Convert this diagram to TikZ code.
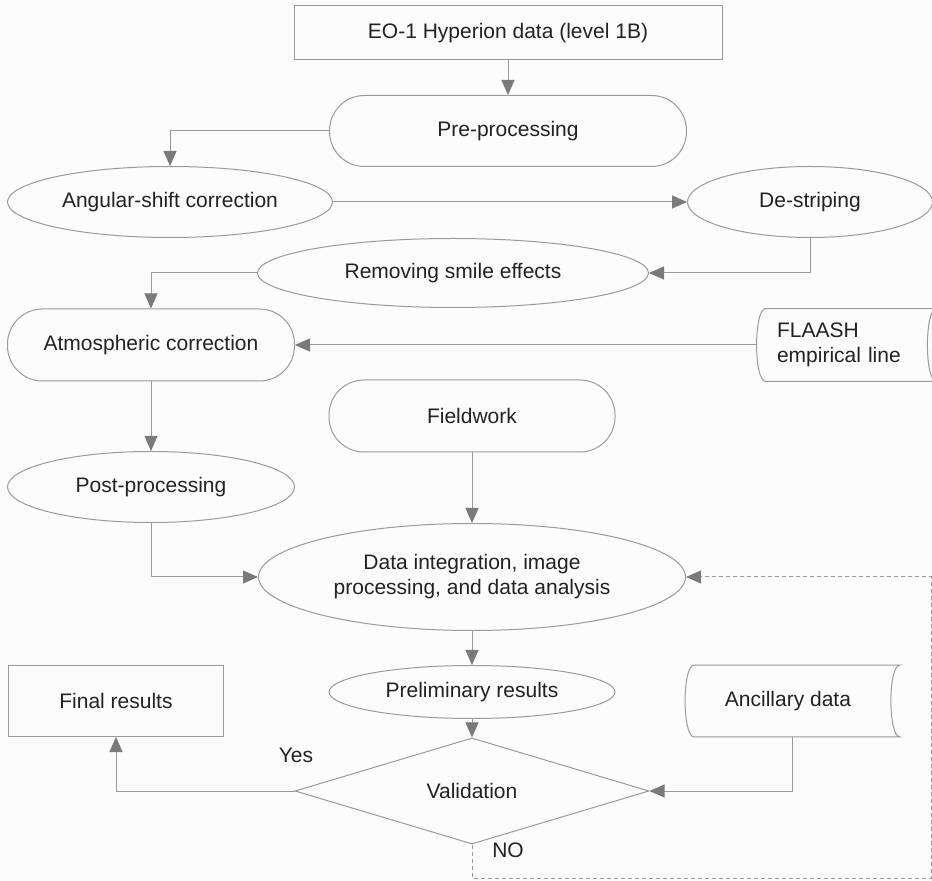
\documentclass[tikz,border=0pt]{standalone}
\usepackage{fontspec}
\setmainfont{Liberation Sans}
\usetikzlibrary{arrows.meta,shapes.geometric}
\definecolor{lineg}{HTML}{9A9A9A}
\definecolor{tipg}{HTML}{7A7A7A}
\definecolor{textg}{HTML}{222222}
\definecolor{paper}{HTML}{FCFCFC}
% outline of a stored-data node: convex left side, concave right side
\newcommand{\storeoutline}[1]{%
  \draw[lineg, line width=0.5pt]
    ([xshift=4.5pt]#1.north west) .. controls ([xshift=-1.5pt]#1.north west) and ([xshift=-1.5pt]#1.south west) .. ([xshift=4.5pt]#1.south west)
    -- ([xshift=4.5pt]#1.south east) .. controls ([xshift=-1.5pt]#1.south east) and ([xshift=-1.5pt]#1.north east) .. ([xshift=4.5pt]#1.north east) -- cycle;}
\tikzset{
  box/.style={rectangle, draw=lineg, line width=0.5pt},
  oval/.style={ellipse, draw=lineg, line width=0.5pt},
  pill/.style={rectangle, rounded corners=17.5pt, draw=lineg, line width=0.5pt},
  store/.style={rectangle, draw=none},
  decide/.style={diamond, draw=lineg, line width=0.5pt},
  flow/.style={draw=lineg, line width=0.5pt, -{Triangle[length=7.5pt,width=6.5pt,color=tipg]}},
  back/.style={flow, dash pattern=on 2pt off 1.5pt},
}
\begin{document}
\begin{tikzpicture}[x=0.5pt, y=-0.5pt, every node/.style={font=\fontsize{10.5}{12.5}\selectfont, text=textg, inner sep=0pt}]
\fill[paper] (0,0) rectangle (932,881);
\useasboundingbox (0,0) rectangle (932,881);
\node (eo) [box, minimum width=214pt, minimum height=27pt] at (508,33) {EO-1 Hyperion data (level 1B)};
\node (pre) [pill, minimum width=178.5pt, minimum height=35.5pt] at (508,131) {Pre-processing};
\node (ang) [oval, minimum width=162.5pt, minimum height=35.5pt] at (170,202) {Angular-shift correction};
\node (des) [oval, minimum width=122.5pt, minimum height=35.5pt] at (810,202) {De-striping};
\node (smile) [oval, minimum width=195.5pt, minimum height=34.5pt] at (453,273) {Removing smile effects};
\node (atm) [pill, minimum width=143.5pt, minimum height=36pt] at (151,345) {Atmospheric correction};
\node (flaash) [store, minimum width=85pt, minimum height=36pt, text width=65pt, align=left] at (842,345) {FLAASH\\empirical line};
\storeoutline{flaash}
\node (field) [pill, minimum width=143pt, minimum height=36pt] at (472,416) {Fieldwork};
\node (post) [oval, minimum width=143.5pt, minimum height=35.5pt] at (151,487) {Post-processing};
\node (integ) [oval, minimum width=213.5pt, minimum height=53.5pt, align=center] at (472,577) {Data integration, image\\processing, and data analysis};
\node (prelim) [oval, minimum width=143pt, minimum height=26.5pt] at (472,692) {Preliminary results};
\node (final) [box, minimum width=107.5pt, minimum height=35.5pt] at (116,701) {Final results};
\node (anc) [store, minimum width=102.5pt, minimum height=35.5pt] at (788,701) {Ancillary data};
\storeoutline{anc}
\node (val) [decide, minimum width=177pt, minimum height=35.5pt] at (472,791) {Validation};
\node (yes) at (296,755) {Yes};
\node (no) at (508,850) {NO};
\coordinate (nob) at (472,878);
\coordinate (nor) at (931,878);
\coordinate (not) at (931,577);
% connectors
\draw[flow] (eo) -- (pre);
\draw[flow] (pre.west) -| (ang.north);
\draw[flow] (ang) -- (des);
\draw[flow] (des.south) |- (smile.east);
\draw[flow] (smile.west) -| (atm.north);
\draw[flow] (flaash.west) -- (atm.east);
\draw[flow] (atm) -- (post);
\draw[flow] (post.south) |- (integ.west);
\draw[flow] (field) -- (integ);
\draw[flow] (integ) -- (prelim);
\draw[flow] (prelim) -- (val);
\draw[flow] (val.west) -| (final.south);
\draw[flow] ([xshift=2.25pt]anc.south) |- (val.east);
\draw[back] (val.south) -- (nob) -- (nor) -- (not) -- (integ.east);
\end{tikzpicture}
\end{document}
